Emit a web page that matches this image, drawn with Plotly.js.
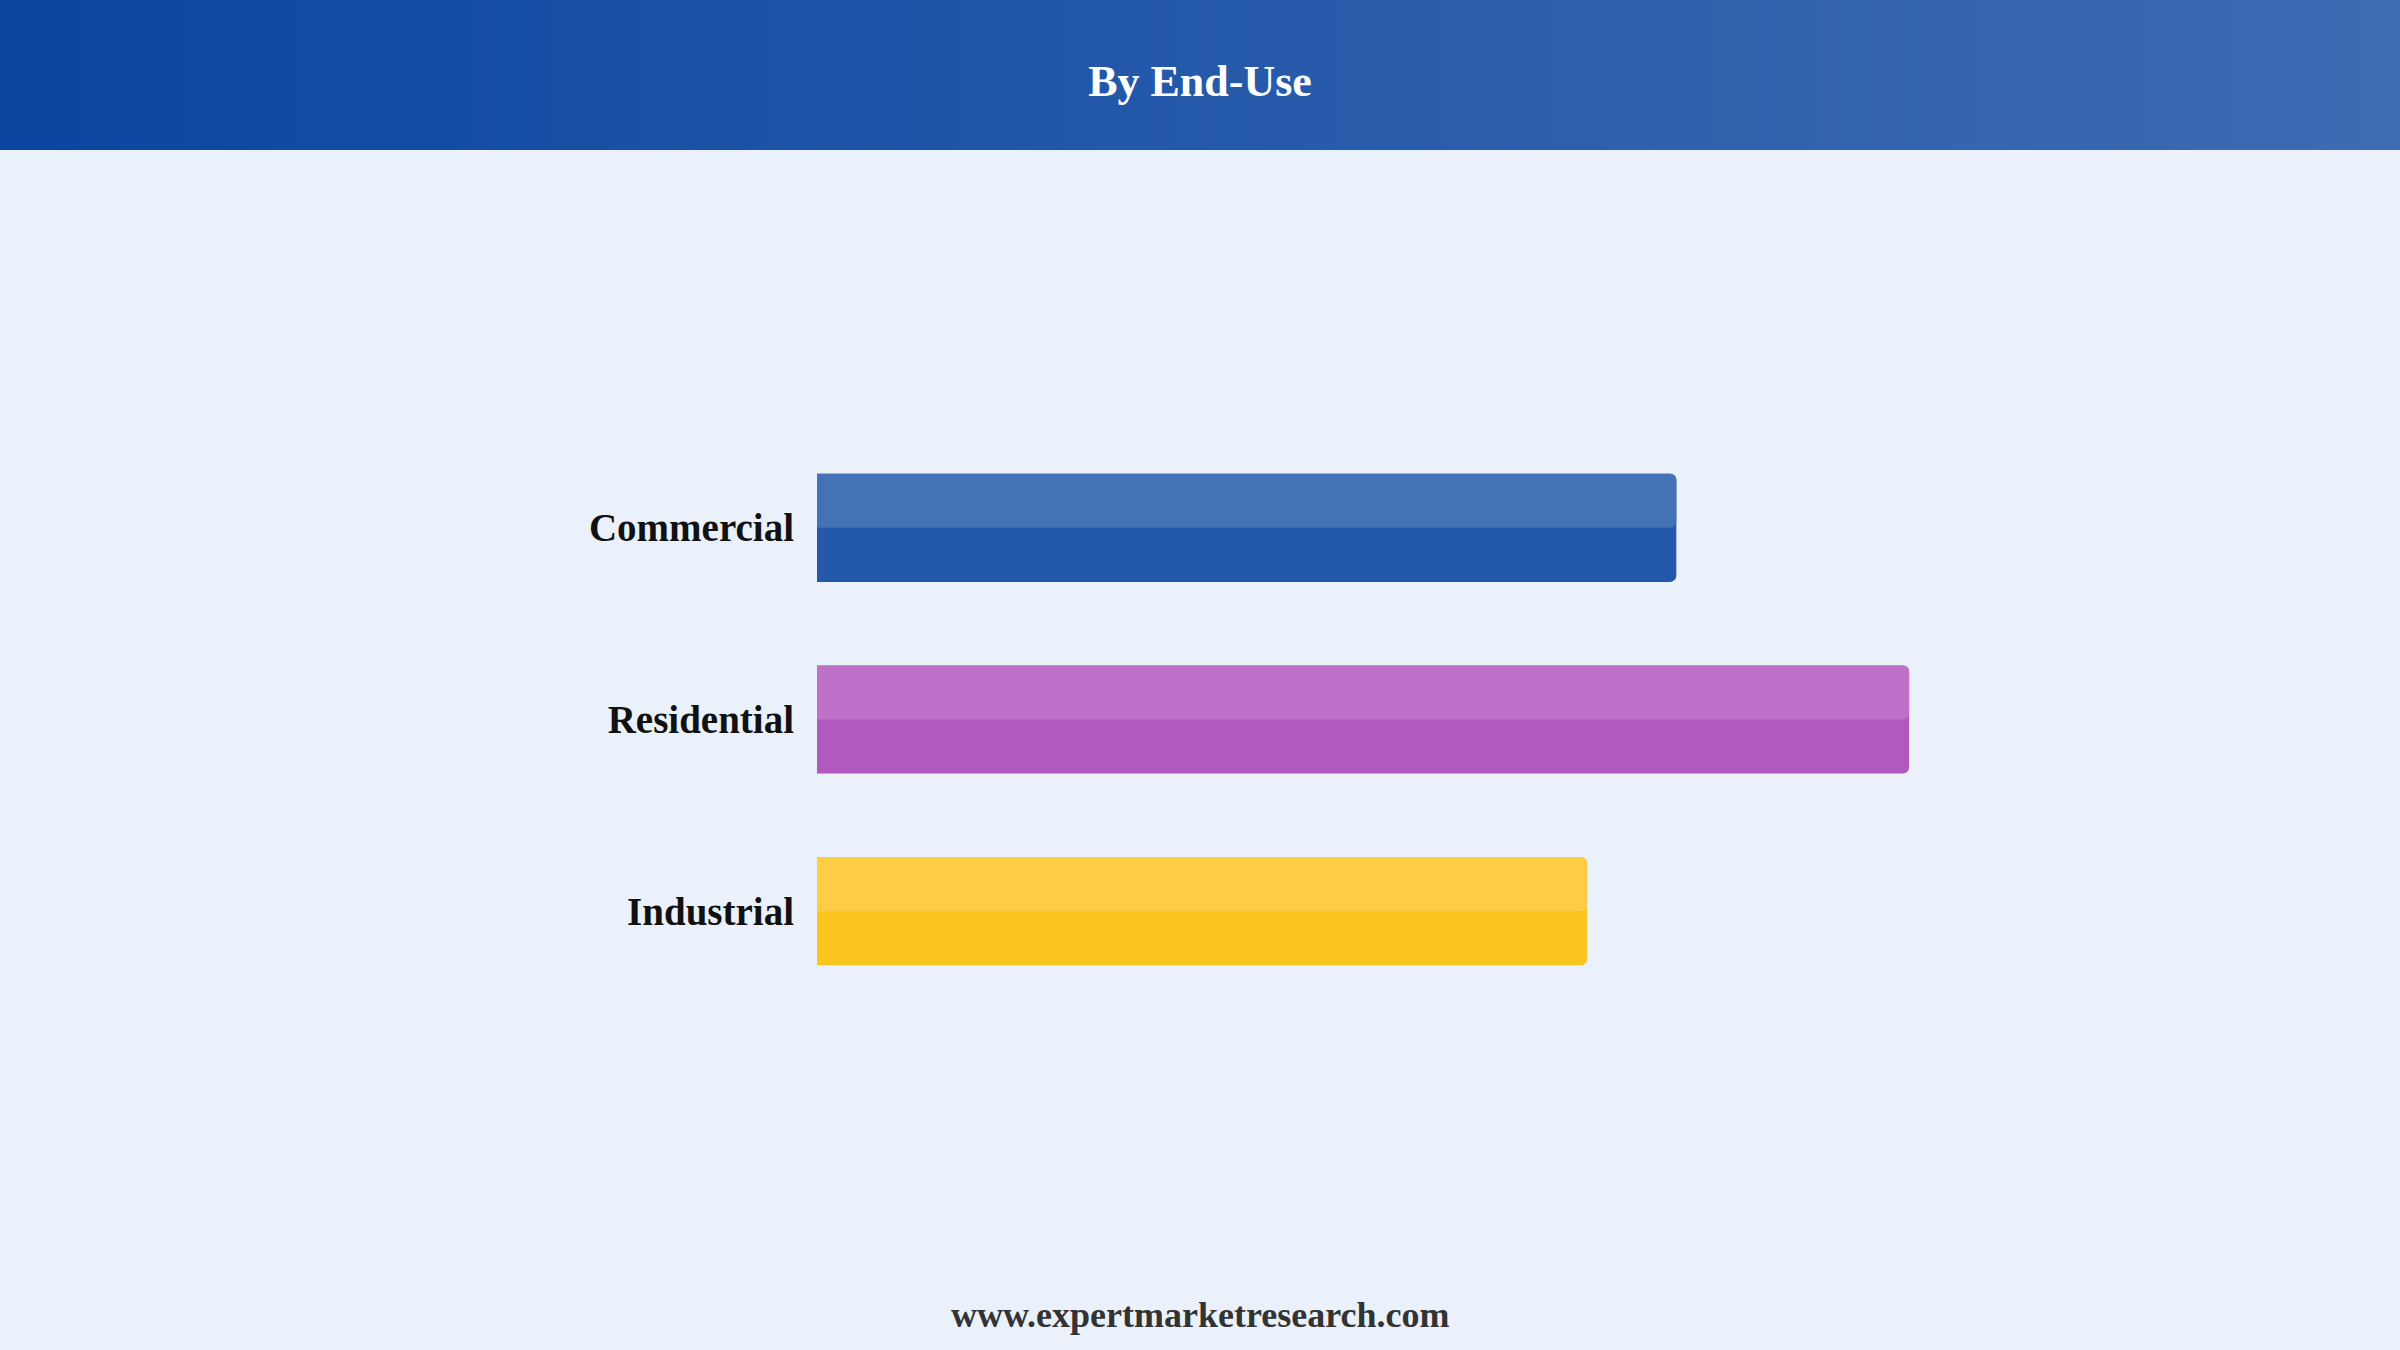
<!DOCTYPE html>
<html>
<head>
<meta charset="utf-8">
<script src="https://cdn.plot.ly/plotly-3.0.1.min.js"></script>
<style>
    html, body { margin: 0; padding: 0; background: #eaf1fb; }
</style>
</head>
<body>
<div id="endUseChart"></div>
<script>
// Data (bottom to top, so Commercial ends up on top)
var categories = ["Industrial", "Residential", "Commercial"];
var shares = [26.8, 38, 29.9];
var darkColors = ["#fbc520", "#b05ac0", "#2358aa"];
var lightColors = ["#fdce45", "#be71c9", "#4372b5"];

var barWidth = 0.564;

function headerGradient() {
    // svg gradient for the top band, passed as a data uri
    var svg = "<svg xmlns='http://www.w3.org/2000/svg' width='2400' height='150'>"
        + "<defs><linearGradient id='g' x1='0' y1='0' x2='1' y2='0'>"
        + "<stop offset='0' stop-color='#0c45a0'/><stop offset='1' stop-color='#3e6cb3'/>"
        + "</linearGradient></defs><rect width='2400' height='150' fill='url(#g)'/></svg>";
    return "data:image/svg+xml;base64," + btoa(svg);
}

function plotEndUseChart() {
    var darkTrace = {
        type: "bar",
        orientation: "h",
        y: categories,
        x: shares,
        width: barWidth,
        offset: -barWidth / 2,
        marker: { color: darkColors, cornerradius: 6, line: { width: 0 } },
        hoverinfo: "skip"
    };
    var lightTrace = {
        type: "bar",
        orientation: "h",
        y: categories,
        x: shares,
        width: barWidth / 2,
        offset: 0,
        marker: { color: lightColors, cornerradius: 6, line: { width: 0 } },
        hoverinfo: "skip"
    };

    // plot area: x 817..2254, y 432..1007 (px)
    var left = 817, plotW = 1437, top = 432, plotH = 575;
    var layout = {
        width: 2400,
        height: 1350,
        margin: { l: left, r: 2400 - left - plotW, t: top, b: 1350 - top - plotH, pad: 0 },
        paper_bgcolor: "#eaf1fb",
        plot_bgcolor: "#eaf1fb",
        barmode: "overlay",
        showlegend: false,
        title: {
            text: "By End-Use",
            x: 0.5,
            xref: "container",
            y: 1 - 81 / 1350,
            yref: "container",
            yanchor: "middle",
            font: { family: "Liberation Serif", size: 44, color: "#ffffff", weight: "bold" }
        },
        xaxis: { range: [0, 50], visible: false, showgrid: false, zeroline: false, fixedrange: true },
        yaxis: {
            showgrid: false,
            showline: false,
            zeroline: false,
            ticks: "",
            ticklabelstandoff: 22,
            tickfont: { family: "Liberation Serif", size: 39, color: "#111111", weight: "bold" },
            fixedrange: true
        },
        images: [{
            source: headerGradient(),
            xref: "paper", yref: "paper",
            x: -left / plotW, y: (top + plotH) / plotH,
            sizex: 2400 / plotW, sizey: 150 / plotH,
            xanchor: "left", yanchor: "top",
            sizing: "stretch",
            layer: "below"
        }],
        annotations: [{
            text: "www.expertmarketresearch.com",
            xref: "paper", yref: "paper",
            x: (1200 - left) / plotW,
            y: (top + plotH - 1315) / plotH,
            xanchor: "center", yanchor: "middle",
            showarrow: false,
            font: { family: "Liberation Serif", size: 36, color: "#333333", weight: "bold" }
        }]
    };

    Plotly.newPlot("endUseChart", [darkTrace, lightTrace], layout, { staticPlot: true, displayModeBar: false });
}
plotEndUseChart();
</script>
</body>
</html>
